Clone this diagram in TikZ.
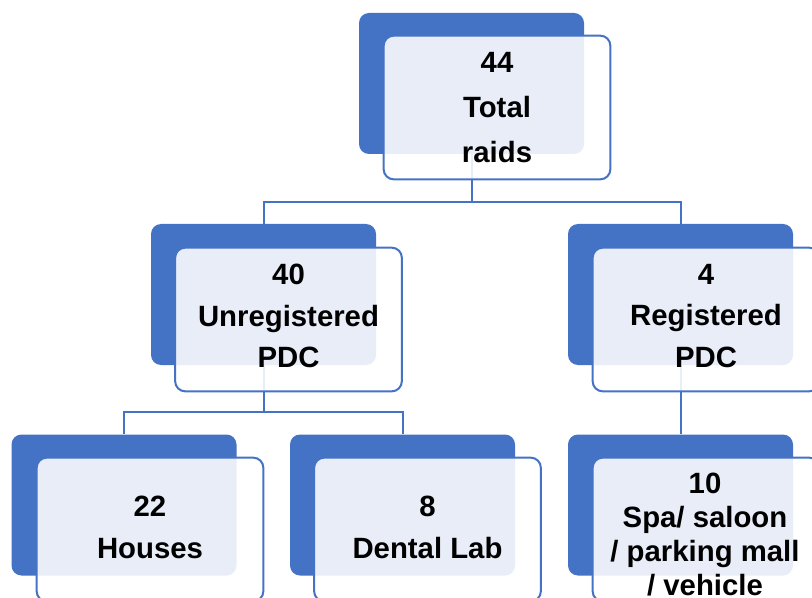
\documentclass[tikz,border=0pt]{standalone}
\usepackage{fontspec}
\setmainfont{Liberation Sans}
\definecolor{accent}{HTML}{4472C4}
\begin{document}
\begin{tikzpicture}[x=0.75pt,y=-0.75pt,
  backbox/.style={fill=accent, rounded corners=7.5pt, minimum width=168.75pt, minimum height=105.75pt, inner sep=0pt, draw=none},
  frontbox/.style={fill=white, fill opacity=0.88, draw=accent, draw opacity=1, line width=1.5pt, rounded corners=7.5pt, minimum width=170pt, minimum height=107.75pt, inner sep=0pt},
  lbl/.style={font=\bfseries\fontsize{22}{31.5}\selectfont, align=center, inner sep=0pt, anchor=north, text=black},
  link/.style={draw=accent, line width=1.5pt}]
\clip (0,0) rectangle (812,598);
% back boxes
\node[backbox] (b0) at (471.5,83.5) {};
\node[backbox] (b1) at (263.5,294.5) {};
\node[backbox] (b2) at (680.5,294.5) {};
\node[backbox] (b3) at (124,505) {};
\node[backbox] (b4) at (402.5,505) {};
\node[backbox] (b5) at (680.5,505) {};
% connectors
\coordinate (j0) at (471.5,202);
\coordinate (j1) at (263.5,412);
\draw[link] (b0.south) -- (j0) -| (b1.north);
\draw[link] (j0) -| (b2.north);
\draw[link] (b1.south) -- (j1) -| (b3.north);
\draw[link] (j1) -| (b4.north);
\draw[link] (b2.south) -- (b5.north);
% front boxes
\node[frontbox] (f0) at (497,107.5) {};
\node[frontbox] (f1) at (288.5,319.5) {};
\node[frontbox] (f2) at (706,319.5) {};
\node[frontbox] (f3) at (150,529.5) {};
\node[frontbox] (f4) at (427.5,529.5) {};
\node[frontbox] (f5) at (706,529.5) {};
% labels
\node[lbl, font=\bfseries\fontsize{22}{33.75}\selectfont] (t0) at (497,52) {44\\Total\\raids};
\node[lbl, font=\bfseries\fontsize{22}{31}\selectfont] (t1) at (288.5,264) {40\\Unregistered\\PDC};
\node[lbl, font=\bfseries\fontsize{22}{31}\selectfont] (t2) at (706,264) {4\\Registered\\PDC};
\node[lbl] (t3) at (150,496) {22\\Houses};
\node[lbl] (t4) at (427.5,496) {8\\Dental Lab};
\node[lbl, font=\bfseries\fontsize{22}{25.5}\selectfont] (t5) at (705,473) {10\\Spa/ saloon\\/ parking mall\\/ vehicle};
\end{tikzpicture}
\end{document}
